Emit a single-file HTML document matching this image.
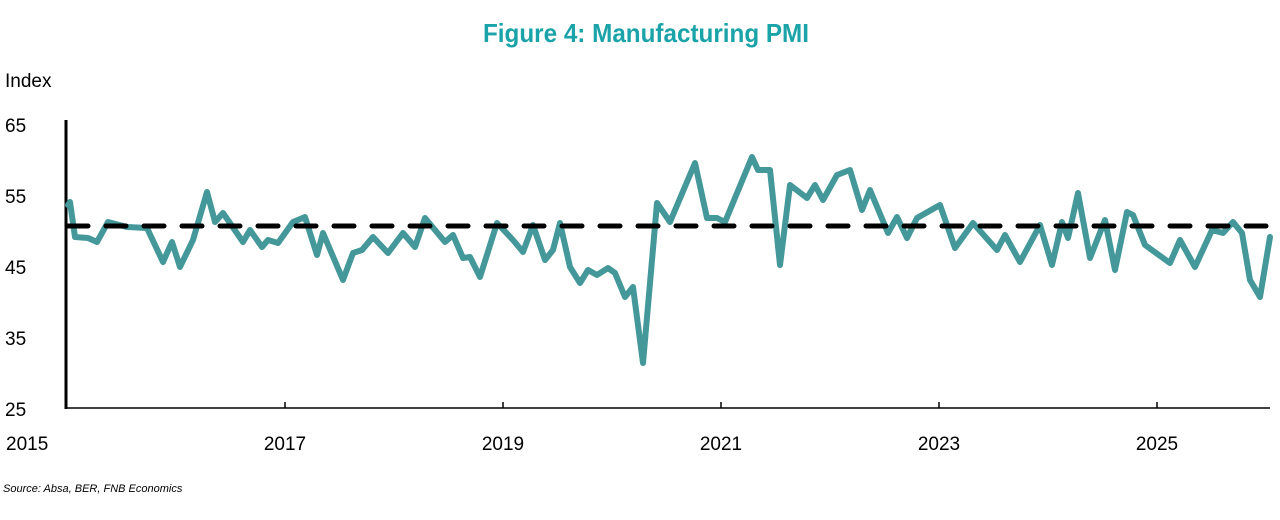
<!DOCTYPE html>
<html><head><meta charset="utf-8"><style>
body{margin:0;background:#fff;}
svg{display:block;}
</style></head><body>
<svg width="1280" height="520" xmlns="http://www.w3.org/2000/svg" font-family="Liberation Sans, sans-serif">
<rect width="1280" height="520" fill="#fff"/>
<text x="483" y="42" textLength="326" lengthAdjust="spacingAndGlyphs" font-family="Liberation Sans Narrow, Liberation Sans, sans-serif" font-weight="bold" font-size="26" fill="#1aa3a8">Figure 4: Manufacturing PMI</text>
<text x="5" y="87" font-size="19" fill="#000">Index</text>
<g font-size="19" fill="#000" text-anchor="start">
<text x="5" y="132">65</text>
<text x="5" y="203">55</text>
<text x="5" y="274">45</text>
<text x="5" y="345">35</text>
<text x="5" y="416">25</text>
</g>
<line x1="66" y1="120" x2="66" y2="409" stroke="#000" stroke-width="3"/>
<line x1="66" y1="408" x2="1270" y2="408" stroke="#000" stroke-width="1.5"/>
<g stroke="#000" stroke-width="1.5">
<line x1="285" y1="402" x2="285" y2="408"/><line x1="503" y1="402" x2="503" y2="408"/>
<line x1="721" y1="402" x2="721" y2="408"/><line x1="939" y1="402" x2="939" y2="408"/>
<line x1="1157" y1="402" x2="1157" y2="408"/>
</g>
<g font-size="19" fill="#000" text-anchor="middle">
<text x="6" y="450" text-anchor="start">2015</text>
<text x="285" y="450">2017</text>
<text x="503" y="450">2019</text>
<text x="721" y="450">2021</text>
<text x="939" y="450">2023</text>
<text x="1157" y="450">2025</text>
</g>
<text x="3" y="492" font-size="11" font-style="italic" fill="#000">Source: Absa, BER, FNB Economics</text>
<polyline fill="none" stroke="#45989a" stroke-width="6" stroke-linejoin="round" stroke-linecap="round" points="
68,205 70,202 75,237 88,238 97,242 108,222 127,227 147,228 163,262 172,242 180,267 193,240 207,192 215,222 223,213 243,242 250,230 262,247 268,240 278,243 293,222 305,217 317,255 323,233 343,280 353,253 362,250 373,237 388,253 403,233 415,247 425,218 445,242 453,235 463,258 470,257 480,277 497,223 513,240 523,252 533,225 545,260 553,250 560,223 570,267 580,283 588,270 597,275 608,268 615,273 625,297 633,287 643,363 657,203 670,222 695,163 707,218 717,218 725,222 752,157 758,170 770,170 780,265 790,185 807,198 815,185 823,200 837,175 850,170 862,210 870,190 888,233 897,217 907,238 917,218 940,205 955,248 973,223 997,250 1005,235 1020,262 1040,225 1052,265 1062,222 1068,238 1078,193 1090,258 1105,220 1115,270 1127,212 1133,215 1145,245 1163,258 1170,263 1180,240 1195,267 1212,230 1223,233 1233,222 1242,233 1250,280 1260,297 1270,237"/>
<line x1="68" y1="226" x2="1272" y2="226" stroke="#000" stroke-width="5" stroke-dasharray="20 18" stroke-linecap="round"/>
</svg>
</body></html>
